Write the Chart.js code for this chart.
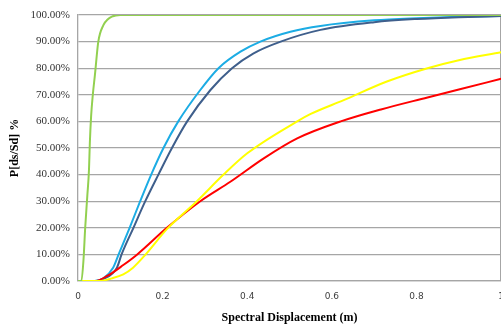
<!DOCTYPE html>
<html>
<head>
<meta charset="utf-8">
<script src="https://cdn.jsdelivr.net/npm/chart.js@4.4.0/dist/chart.umd.min.js"></script>
<style>
  html, body { margin: 0; padding: 0; background: #fff; overflow: hidden; }
  #wrap { position: relative; width: 514px; height: 329px; }
</style>
</head>
<body>
<div id="wrap"><canvas id="chart"></canvas></div>
<script>
// Fragility curves (x = spectral displacement in m, y = %)
const greenX = [0, 0.008, 0.013, 0.017, 0.022, 0.026, 0.028, 0.031, 0.035, 0.04, 0.048, 0.06, 0.07, 0.08, 0.1, 0.4, 0.7, 1.0];
const greenY = [0, 0, 8, 20, 32, 42, 52, 62, 70, 77.5, 90, 96.2, 98.3, 99.4, 100, 100, 100, 100];

const cyanX = [0, 0.04, 0.06, 0.083, 0.096, 0.122, 0.147, 0.173, 0.202, 0.237, 0.289, 0.332, 0.384, 0.431, 0.502, 0.573, 0.7, 0.8, 0.9, 1.0];
const cyanY = [0, 0, 1, 5, 10, 20, 30, 40, 50, 60, 71.8, 80, 86.2, 90, 93.7, 95.9, 98, 98.8, 99.3, 99.6];

const navyX = [0, 0.04, 0.06, 0.092, 0.103, 0.131, 0.159, 0.19, 0.222, 0.258, 0.313, 0.364, 0.415, 0.479, 0.573, 0.7, 0.8, 0.9, 1.0];
const navyY = [0, 0, 0.8, 5, 10, 20, 30, 40, 50, 60, 71.8, 80, 85.6, 90, 94.4, 97.3, 98.5, 99.2, 99.6];

const yellowX = [0, 0.05, 0.08, 0.107, 0.13, 0.16, 0.21, 0.281, 0.344, 0.4, 0.518, 0.55, 0.628, 0.73, 0.826, 0.9, 1.0];
const yellowY = [0, 0, 1, 2.5, 5, 10, 19.5, 30, 40, 48, 60, 62.8, 68, 75, 80, 83, 86];

const redX = [0, 0.04, 0.07, 0.107, 0.14, 0.21, 0.289, 0.36, 0.439, 0.518, 0.621, 0.716, 0.826, 0.9, 1.0];
const redY = [0, 0, 2, 6, 10, 20, 30, 37.3, 46.1, 53.6, 60, 64.5, 69, 72, 76];

const xTicks = [0, 0.2, 0.4, 0.6, 0.8, 1];

const toPoints = (xs, ys) => xs.map((x, i) => ({ x: x, y: ys[i] }));

const series = [
  { data: toPoints(greenX, greenY), color: '#92d050' },
  { data: toPoints(yellowX, yellowY), color: '#ffff00' },
  { data: toPoints(redX, redY), color: '#ff0000' },
  { data: toPoints(navyX, navyY), color: '#3f5f8c' },
  { data: toPoints(cyanX, cyanY), color: '#1cace4' }
];

const gridGrey = '#a6a6a6';

new Chart(document.getElementById('chart'), {
  type: 'line',
  data: {
    datasets: series.map(s => ({
      data: s.data,
      borderColor: s.color,
      backgroundColor: s.color,
      borderWidth: 2,
      pointRadius: 0,
      fill: false,
      cubicInterpolationMode: 'monotone'
    }))
  },
  options: {
    responsive: true,
    maintainAspectRatio: false,
    animation: false,
    layout: { padding: { top: 15, right: 0, left: 0, bottom: 0 } },
    plugins: { legend: { display: false }, tooltip: { enabled: false } },
    scales: {
      x: {
        type: 'linear',
        min: 0,
        max: 1,
        afterBuildTicks: axis => { axis.ticks = xTicks.map(v => ({ value: v })); },
        afterFit: axis => { axis.height = 48; },
        grid: {
          drawTicks: false,
          lineWidth: 1.3,
          color: ctx => (ctx.tick && ctx.tick.value === 1 ? gridGrey : 'rgba(0,0,0,0)')
        },
        border: { color: gridGrey, width: 1.3 },
        ticks: {
          padding: 10,
          maxRotation: 0,
          color: '#404040',
          font: { family: 'DejaVu Sans', size: 9 },
          callback: v => String(v)
        },
        title: {
          display: true,
          text: 'Spectral Displacement (m)',
          color: '#000',
          padding: { top: 11 },
          font: { family: 'Liberation Serif', size: 12, weight: 'bold' }
        }
      },
      y: {
        min: 0,
        max: 100,
        afterFit: axis => { axis.width = 78; },
        grid: { drawTicks: false, color: gridGrey, lineWidth: 1.3 },
        border: { color: gridGrey, width: 1.3 },
        ticks: {
          stepSize: 10,
          padding: 8,
          color: '#333',
          font: { family: 'Liberation Serif', size: 11 },
          callback: v => v.toFixed(2) + '%'
        },
        title: {
          display: true,
          text: 'P[ds/Sd] %',
          color: '#000',
          padding: { top: 8, bottom: 0 },
          font: { family: 'Liberation Serif', size: 12, weight: 'bold' }
        }
      }
    }
  }
});
</script>
</body>
</html>
